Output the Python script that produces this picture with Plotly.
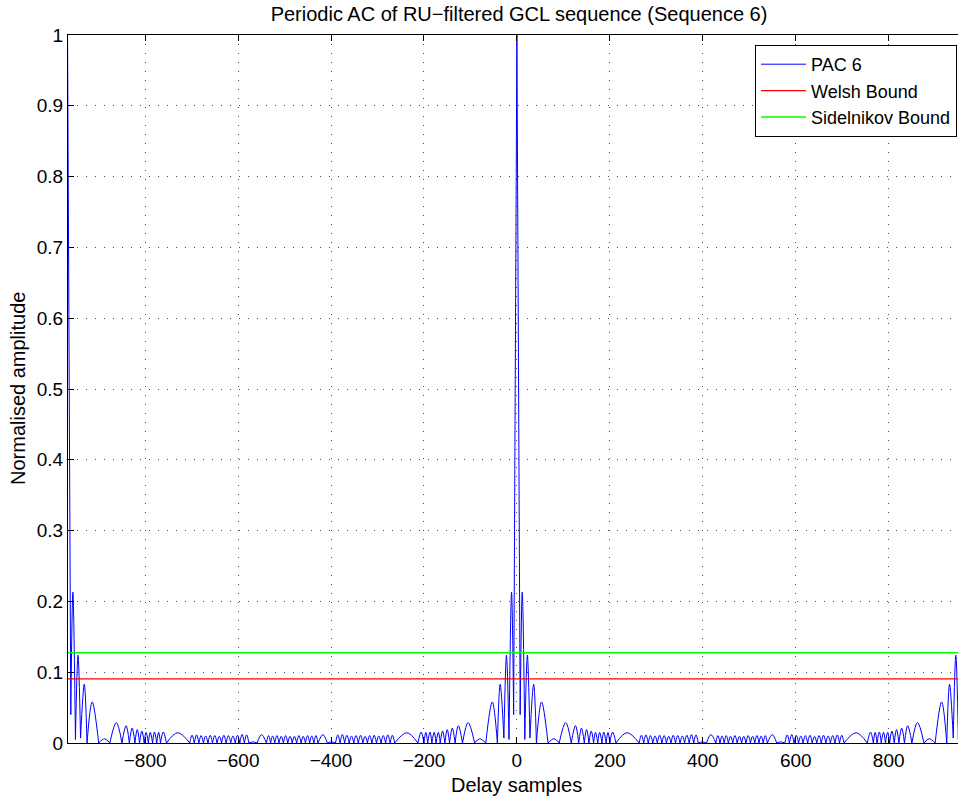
import plotly.graph_objects as go

# ---------------- data ----------------
PERIOD = 967                      # distance between the two unit peaks (0 and -967)
MAIN_LOBE_DELAYS = [-7, 0, 7]
MAIN_LOBE_AMPS = [0.04, 1.0, 0.04]

# side-lobe boundaries (nulls) on the positive half of the period, 7 .. 483.5
LOBE_NULLS = [7, 17, 28, 42, 67, 91, 117,
              133, 145, 155, 165, 174, 183, 192, 200, 213,
              263, 272.8, 282.6, 292.4, 302.2, 312, 321.7, 331.5, 341.3, 351.1,
              360.9, 370.7, 380.5, 390.3,
              408, 428,
              437, 446, 455, 464.5, 474, 483.5]
NULL_AMPS = [0.04, 0.005, 0.007] + [0.0] * 35

LOBE_PEAK_DELAYS = [11.5, 22.5, 36, 53, 80, 105, 126, 139, 150, 160, 169, 178, 187, 196, 206, 237,
                    267.9, 277.7, 287.5, 297.3, 307.1, 316.9, 326.6, 336.4, 346.2, 356, 365.8,
                    375.6, 385.4, 399, 417.5,
                    432.5, 441.5, 450.5, 459.8, 469.2, 478.8]
LOBE_PEAK_AMPS = [0.213, 0.124, 0.083, 0.058, 0.006, 0.029, 0.0245, 0.021, 0.019, 0.017, 0.015,
                  0.015, 0.0155, 0.015, 0.0155, 0.0145,
                  0.011, 0.0115, 0.0105, 0.010, 0.011, 0.0105, 0.0095, 0.011, 0.0105, 0.010,
                  0.011, 0.012, 0.0115,
                  0.0015, 0.0118,
                  0.0105, 0.010, 0.0105, 0.0095, 0.0105, 0.0095]

WELSH_BOUND = 0.0905
SIDELNIKOV_BOUND = 0.1275

X_TICKS = [-800, -600, -400, -200, 0, 200, 400, 600, 800]
X_RANGE = [-966, 949.2]

# ---------------- build PAC curve (periodic, symmetric autocorrelation) ----------------
main_x, main_y = [], []
for c in (-PERIOD, 0, PERIOD):
    main_x += [c + d for d in MAIN_LOBE_DELAYS] + [None]
    main_y += MAIN_LOBE_AMPS + [None]

xs, ys = [], []
images = [(1, 0), (-1, 0), (-1, PERIOD), (1, -PERIOD)]
for i in range(len(LOBE_PEAK_DELAYS)):
    a, b, p = LOBE_NULLS[i], LOBE_NULLS[i + 1], LOBE_PEAK_DELAYS[i]
    ya, yb, yp = NULL_AMPS[i], NULL_AMPS[i + 1], LOBE_PEAK_AMPS[i]
    for s, sh in images:
        xs += [s * a + sh, s * p + sh, s * b + sh, None]
        ys += [ya, yp, yb, None]

FONT = "Liberation Sans, Arial, Helvetica, sans-serif"

fig = go.Figure()
fig.add_trace(go.Scatter(x=xs, y=ys, mode="lines", name="PAC 6", legendgroup="pac",
                         line=dict(color="#0000ff", width=1, shape="spline", smoothing=1),
                         connectgaps=False))
fig.add_trace(go.Scatter(x=main_x, y=main_y, mode="lines", name="PAC 6", legendgroup="pac",
                         showlegend=False, line=dict(color="#0000ff", width=1),
                         connectgaps=False))
fig.add_trace(go.Scatter(x=[-PERIOD, PERIOD], y=[WELSH_BOUND, WELSH_BOUND], mode="lines",
                         name="Welsh Bound", line=dict(color="#ff0000", width=1.2)))
fig.add_trace(go.Scatter(x=[-PERIOD, PERIOD], y=[SIDELNIKOV_BOUND, SIDELNIKOV_BOUND], mode="lines",
                         name="Sidelnikov Bound", line=dict(color="#00ff00", width=1.5)))

L, T, B = 68, 35, 57
W, H = 958, 800
PW = W - L
PH = H - T - B

grid = dict(showgrid=True, gridcolor="rgb(80,80,80)", gridwidth=1, griddash="1px,8px")

fig.update_layout(
    width=W, height=H,
    margin=dict(l=L, r=0, t=T, b=B, pad=0),
    paper_bgcolor="white", plot_bgcolor="white",
    font=dict(family=FONT, size=19, color="black"),
    showlegend=True,
    legend=dict(x=1 - 1 / PW, xanchor="right", y=(PH - (45 - T)) / PH, yanchor="top",
                bgcolor="white", bordercolor="black", borderwidth=1,
                font=dict(family=FONT, size=18, color="black"),
                tracegroupgap=0, itemwidth=45),
    title=dict(text="Periodic AC of RU\u2212filtered GCL sequence (Sequence 6)",
               x=(519 - L) / PW, xref="paper", xanchor="center",
               y=1 - 14 / H, yref="container", yanchor="middle",
               font=dict(family=FONT, size=20, color="black")),
    xaxis=dict(range=X_RANGE, tickvals=X_TICKS, ticks="inside", ticklen=6, tickwidth=1,
               tickcolor="black", showline=True, linecolor="black", linewidth=1,
               mirror="ticks", zeroline=False, tickfont=dict(size=19), **grid),
    yaxis=dict(range=[0, 1], dtick=0.1, tick0=0, ticks="inside", ticklen=6, tickwidth=1,
               tickcolor="black", showline=True, linecolor="black", linewidth=1,
               mirror=False, zeroline=False, tickfont=dict(size=19), **grid),
    annotations=[
        dict(text="Delay samples", xref="paper", yref="paper",
             x=(516 - L) / PW, y=-(785 - (T + PH)) / PH, xanchor="center", yanchor="middle",
             showarrow=False, font=dict(family=FONT, size=20, color="black")),
        dict(text="Normalised amplitude", xref="paper", yref="paper",
             x=(18 - L) / PW, y=0.5, xanchor="center", yanchor="middle", textangle=-90,
             showarrow=False, font=dict(family=FONT, size=20, color="black")),
    ],
)

fig.write_html("out.html")
